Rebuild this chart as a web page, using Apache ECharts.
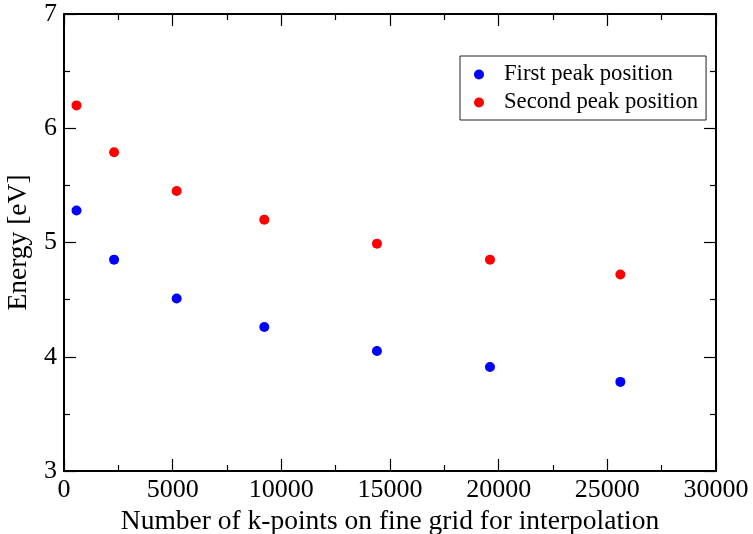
<!DOCTYPE html>
<html>
<head>
<meta charset="utf-8">
<script src="https://cdn.jsdelivr.net/npm/echarts@6/dist/echarts.min.js"></script>
<style>
  html, body { margin: 0; padding: 0; background: #fff; }
  #chart { width: 753px; height: 534px; }
</style>
</head>
<body>
<div id="chart"></div>
<script>
// Number of k-points on the fine interpolation grid
const kpoints = [576, 2304, 5184, 9216, 14400, 19600, 25600];
// Peak energies in eV
const firstPeak = [5.28, 4.85, 4.51, 4.26, 4.05, 3.91, 3.78];
const secondPeak = [6.20, 5.79, 5.45, 5.20, 4.99, 4.85, 4.72];

const seriesNames = ['First peak position', 'Second peak position'];
const xTitle = 'Number of k-points on fine grid for interpolation';
const yTitle = 'Energy [eV]';

const FONT = '"Liberation Serif", "Times New Roman", serif';

function pairs(xs, ys) {
  return xs.map((x, i) => [x, ys[i]]);
}

function axisStyle() {
  return {
    axisLine: { show: true, onZero: false, lineStyle: { color: '#000', width: 2 } },
    axisTick: { show: true, inside: true, length: 12, lineStyle: { color: '#000', width: 1.2 } },
    minorTick: { show: true, splitNumber: 2, length: 6, lineStyle: { color: '#000', width: 1.2 } },
    splitLine: { show: false },
    minorSplitLine: { show: false },
    axisLabel: { show: false }
  };
}

const tickLabel = (margin) => ({
  show: true,
  color: '#000',
  fontFamily: FONT,
  fontSize: 26,
  margin: margin,
  formatter: (v) => String(v)
});

const titleStyle = { color: '#000', fontFamily: FONT, fontSize: 27.5 };

const xBase = { type: 'value', min: 0, max: 30000, interval: 5000 };
const yBase = { type: 'value', min: 3, max: 7, interval: 1 };

const chart = echarts.init(document.getElementById('chart'), null, { renderer: 'canvas' });

chart.setOption({
  backgroundColor: '#fff',
  animation: false,
  grid: {
    left: 64, right: 37, top: 14, bottom: 63,
    containLabel: false,
    outerBoundsMode: 'none'
  },
  legend: {
    show: true,
    orient: 'vertical',
    left: 460,
    top: 56,
    padding: [7, 8, 6, 14],
    itemGap: 5,
    itemWidth: 40,
    itemHeight: 10,
    icon: 'circle',
    borderColor: '#222',
    borderWidth: 1,
    backgroundColor: '#fff',
    textStyle: { color: '#000', fontFamily: FONT, fontSize: 22.7 },
    data: seriesNames
  },
  xAxis: [
    Object.assign({}, xBase, axisStyle(), {
      position: 'bottom',
      name: xTitle,
      nameLocation: 'middle',
      nameGap: 27,
      nameTextStyle: titleStyle,
      axisLabel: tickLabel(6)
    }),
    Object.assign({}, xBase, axisStyle(), { position: 'top' })
  ],
  yAxis: [
    Object.assign({}, yBase, axisStyle(), {
      position: 'left',
      name: yTitle,
      nameLocation: 'middle',
      nameGap: 31,
      nameTextStyle: titleStyle,
      axisLabel: tickLabel(7)
    }),
    Object.assign({}, yBase, axisStyle(), { position: 'right' })
  ],
  series: [
    {
      name: seriesNames[0],
      type: 'scatter',
      xAxisIndex: 0,
      yAxisIndex: 0,
      symbol: 'circle',
      symbolSize: 10,
      itemStyle: { color: '#0000ff', opacity: 1 },
      data: pairs(kpoints, firstPeak)
    },
    {
      name: seriesNames[1],
      type: 'scatter',
      xAxisIndex: 0,
      yAxisIndex: 0,
      symbol: 'circle',
      symbolSize: 10,
      itemStyle: { color: '#ff0000', opacity: 1 },
      data: pairs(kpoints, secondPeak)
    }
  ]
});
</script>
</body>
</html>
